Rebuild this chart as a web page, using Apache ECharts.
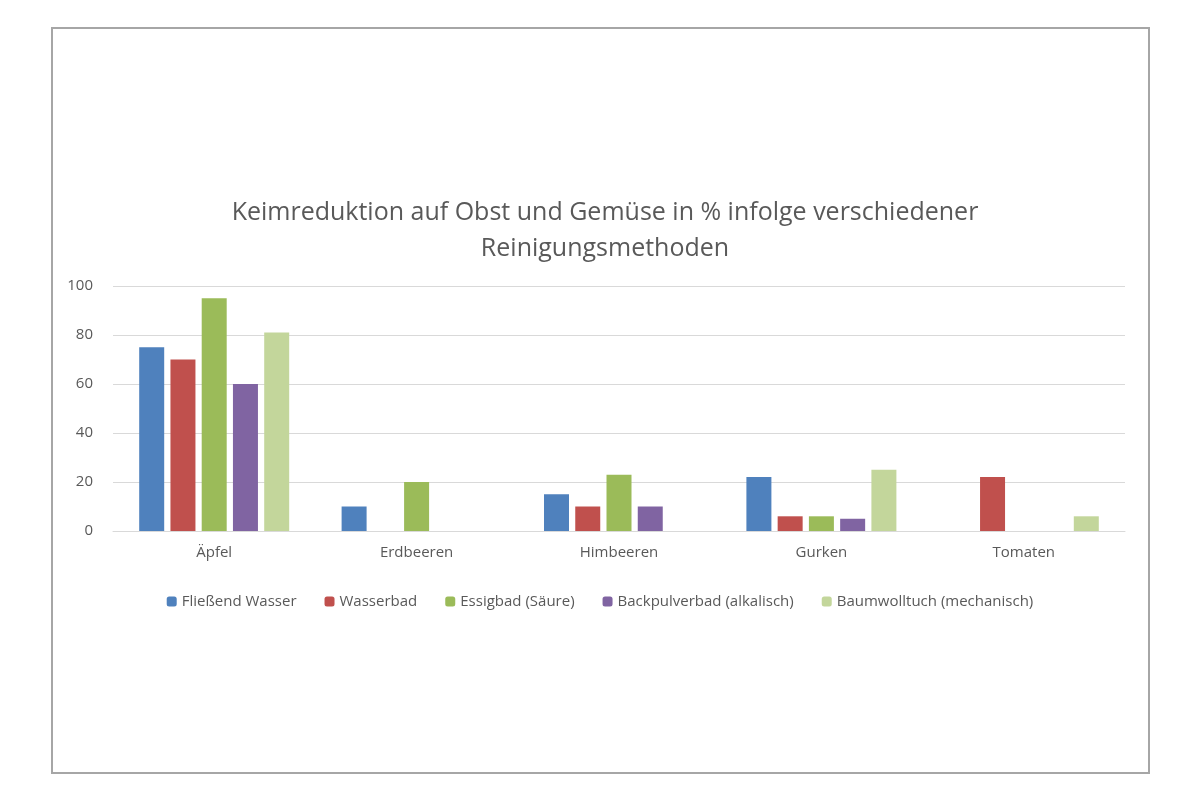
<!DOCTYPE html>
<html>
<head>
<meta charset="utf-8">
<script src="https://cdn.jsdelivr.net/npm/echarts@6/dist/echarts.min.js"></script>
<style>
  html, body { margin: 0; padding: 0; background: #fff; }
  #frame { position: absolute; left: 51px; top: 27px; width: 1095px; height: 743px; border: 2px solid #a6a6a6; }
  #chart { position: absolute; left: 0; top: 0; width: 1200px; height: 800px; }
</style>
</head>
<body>
<div id="frame"></div>
<div id="chart"></div>
<script>
const categories = ['Äpfel', 'Erdbeeren', 'Himbeeren', 'Gurken', 'Tomaten'];
const seriesNames = ['Fließend Wasser', 'Wasserbad', 'Essigbad (Säure)', 'Backpulverbad (alkalisch)', 'Baumwolltuch (mechanisch)'];
const fliessendWasser = [75, 10, 15, 22, 0];
const wasserbad = [70, 0, 10, 6, 22];
const essigbad = [95, 20, 23, 6, 0];
const backpulverbad = [60, 0, 10, 5, 0];
const baumwolltuch = [81, 0, 0, 25, 6];
const colors = ['#4f81bd', '#c0504d', '#9bbb59', '#8064a2', '#c3d69b'];

let myChart = echarts.init(document.getElementById('chart'));
const values = [fliessendWasser, wasserbad, essigbad, backpulverbad, baumwolltuch];

let option = {
    title: {
        text: 'Keimreduktion auf Obst und Gemüse in % infolge verschiedener\nReinigungsmethoden',
        left: 600, top: 190, textAlign: 'center',
        textStyle: { fontFamily: 'Open Sans', fontSize: 25, fontWeight: 'normal', color: '#595959', lineHeight: 36 }
    },
    legend: {
        top: 589, left: 'center', itemWidth: 10, itemHeight: 10, itemGap: 28,
        textStyle: { fontFamily: 'Open Sans', fontSize: 15, color: '#595959' }
    },
    grid: { left: 113, right: 75, top: 286, bottom: 269 },
    xAxis: {
        type: 'category', data: categories,
        axisLine: { lineStyle: { color: '#d9d9d9' } },
        axisTick: { show: false },
        axisLabel: { fontFamily: 'Open Sans', fontSize: 15, color: '#595959', margin: 14 }
    },
    yAxis: {
        type: 'value', min: 0, max: 100, interval: 20,
        axisLabel: { fontFamily: 'Open Sans', fontSize: 15, color: '#595959', margin: 20 },
        splitLine: { lineStyle: { color: '#d9d9d9' } }
    },
    series: seriesNames.map(function (name, i) {
        return { name: name, type: 'bar', data: values[i], barWidth: 25, barGap: '25%', itemStyle: { color: colors[i] } };
    })
};
myChart.setOption(option);
</script>
</body>
</html>
